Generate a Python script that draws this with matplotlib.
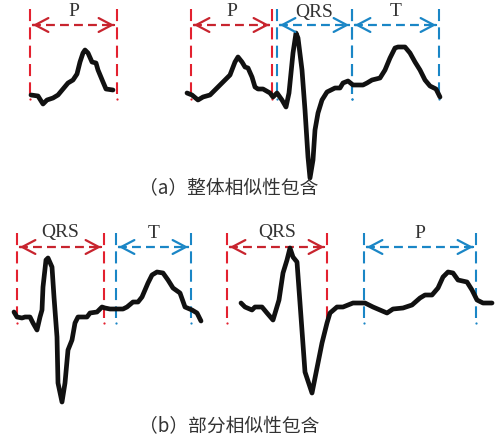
import matplotlib
matplotlib.use('Agg')
import matplotlib.pyplot as plt

# canvas in pixels of the original drawing
W, H = 503, 441

RED = '#e3212f'
RED_DARK = '#c8242e'
BLUE = '#1a86c6'

# ---- ECG traces (x, y in pixel units, y downwards)
a1_x = [31, 38, 43, 47, 53, 58, 63, 68, 73, 77, 80, 83, 85, 88, 92, 96, 98, 103, 106, 113]
a1_y = [95, 96, 104, 100, 98, 95, 89, 83, 80, 74, 62, 53, 50, 53, 62, 63, 70, 82, 89, 90]

a2_x = [187, 192, 198, 203, 210, 217, 223, 230, 235, 238, 242, 245, 248, 252, 255, 258, 263, 270, 273,
        277, 282, 286, 289, 293, 296, 298, 302, 305, 308, 310, 313, 315, 318, 322, 327, 335, 340,
        343, 348, 353, 363, 367, 372, 380, 385, 390, 395, 398, 405, 410, 415, 420, 425, 430, 436, 440]
a2_y = [93, 95, 100, 97, 95, 88, 82, 75, 62, 57, 62, 67, 68, 77, 87, 89, 89, 93, 97,
        93, 100, 107, 93, 53, 33, 38, 70, 110, 157, 178, 160, 130, 113, 100, 92, 88, 88,
        83, 81, 85, 85, 83, 80, 78, 70, 58, 48, 47, 47, 53, 62, 70, 80, 86, 89, 97]

b1_x = [14, 17, 22, 25, 30, 33, 37, 40, 42, 43, 46, 48, 52, 54, 57, 58, 62, 65, 68, 72, 75, 78, 87, 90,
        97, 102, 105, 110, 123, 127, 133, 138, 142, 145, 148, 152, 157, 163, 168, 173, 180, 185, 192,
        197, 201]
b1_y = [312, 317, 318, 317, 317, 323, 330, 317, 310, 287, 260, 258, 267, 297, 337, 383, 402, 383, 350,
        340, 323, 317, 317, 313, 312, 307, 308, 309, 309, 307, 302, 302, 297, 290, 283, 275, 272, 273,
        280, 288, 293, 307, 310, 313, 321]

b2_x = [241, 245, 252, 255, 262, 267, 273, 279, 283, 287, 290, 293, 297, 300, 305, 312, 317, 322, 327,
        330, 337, 343, 348, 353, 365, 373, 380, 387, 393, 403, 412, 420, 425, 432, 438, 443, 448, 453,
        458, 467, 472, 477, 483, 492]
b2_y = [303, 307, 310, 307, 307, 313, 320, 300, 273, 260, 248, 257, 262, 303, 372, 393, 368, 343, 323,
        313, 307, 307, 305, 303, 303, 307, 310, 313, 309, 308, 305, 298, 295, 295, 288, 277, 272, 273,
        280, 282, 290, 300, 303, 303]

# ---- segment boundaries: (left, right, label, colour)
segs_a1 = [(30, 117, 'P', RED)]
segs_a2 = [(191, 272, 'P', RED), (277, 352, 'QRS', BLUE), (352, 439, 'T', BLUE)]
segs_b1 = [(17, 104, 'QRS', RED), (116, 191, 'T', BLUE)]
segs_b2 = [(227, 327, 'QRS', RED), (364, 476, 'P', BLUE)]

# (top of guide line, bottom of guide line, arrow y, label y)
row_a = (9, 99, 25, 12)
row_b = (233, 323, 247, 233)

captions = ['（a）整体相似性包含', '（b）部分相似性包含']
caption_y = [189, 427]
caption_x = 229

fig = plt.figure(figsize=(W / 100, H / 100), dpi=100)
ax = fig.add_axes([0, 0, 1, 1])
ax.set_xlim(0, W)
ax.set_ylim(H, 0)
ax.axis('off')

head = '->,head_length=0.95,head_width=0.5'


def draw_segs(segs, row):
    top, bot, ay, ly = row
    for x0, x1, lab, col in segs:
        arr_col = RED_DARK if col == RED else col
        for xv in (x0, x1):
            ax.plot([xv, xv], [top, bot - 5], color=col, lw=1.5, ls=(0, (5.8, 3.0)), zorder=2)
            ax.plot([xv], [bot], marker='o', ms=1.6, color=col, mew=0, zorder=2)
        ax.plot([x0 + 2, x1 - 2], [ay, ay], color=arr_col, lw=1.6, ls=(0, (4.0, 2.3)), zorder=2)
        ax.annotate('', xy=(x0, ay), xytext=(x0 + 6, ay),
                    arrowprops=dict(arrowstyle=head, color=arr_col, lw=1.6))
        ax.annotate('', xy=(x1, ay), xytext=(x1 - 6, ay),
                    arrowprops=dict(arrowstyle=head, color=arr_col, lw=1.6))
        ax.text((x0 + x1) / 2, ly, lab, ha='center', va='center', fontsize=14,
                family='Liberation Serif', color='#333333')


for sx, sy in [(a1_x, a1_y), (a2_x, a2_y), (b1_x, b1_y), (b2_x, b2_y)]:
    ax.plot(sx, sy, color='#111111', lw=3.4, solid_joinstyle='round', solid_capstyle='round', zorder=3)

draw_segs(segs_a1, row_a)
draw_segs(segs_a2, row_a)
draw_segs(segs_b1, row_b)
draw_segs(segs_b2, row_b)

for cap, cy in zip(captions, caption_y):
    ax.text(caption_x, cy, cap, ha='center', va='center', fontsize=13.5,
            family=['Noto Sans CJK SC', 'DejaVu Sans'], color='#333333')

plt.savefig('out.png', dpi=100)
